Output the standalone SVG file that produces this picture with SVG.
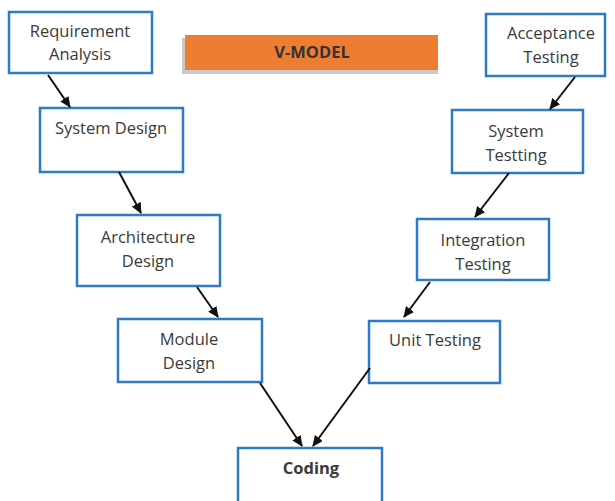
<svg xmlns="http://www.w3.org/2000/svg" width="615" height="501" viewBox="0 0 615 501">
<defs>
<marker id="ah" markerWidth="11" markerHeight="10" refX="10" refY="5" orient="auto" markerUnits="userSpaceOnUse">
<path d="M0,0 L11,5 L0,10 Z" fill="#111"/>
</marker>
<style>
.box{fill:#fff;stroke:#2e7bc4;stroke-width:2.5}
.t{font-family:"Open Sans","Liberation Sans",sans-serif;font-size:16.5px;fill:#3a3a3a;text-anchor:middle}
.b{font-weight:bold}
.c{stroke:#111;stroke-width:2;fill:none;marker-end:url(#ah)}
</style>
</defs>
<rect width="615" height="501" fill="#fff"/>
<g id="title">
<rect x="182" y="38" width="256" height="36" fill="#c9c9c9"/>
<rect x="185" y="35" width="253" height="35" fill="#ed7d31"/>
<text class="t b" x="312" y="58" style="fill:#333">V-MODEL</text>
</g>
<g id="req"><rect class="box" x="9" y="12" width="143" height="61"/><text class="t" x="80" y="37">Requirement</text><text class="t" x="80" y="60">Analysis</text></g>
<g id="sysdes"><rect class="box" x="40" y="108" width="143" height="64"/><text class="t" x="111" y="134">System Design</text></g>
<g id="arch"><rect class="box" x="77" y="215" width="143" height="71"/><text class="t" x="148" y="243">Architecture</text><text class="t" x="148" y="267">Design</text></g>
<g id="module"><rect class="box" x="118" y="319" width="144" height="63"/><text class="t" x="189" y="345">Module</text><text class="t" x="189" y="369">Design</text></g>
<g id="coding"><rect class="box" x="238" y="448" width="144" height="60"/><text class="t b" x="311" y="474">Coding</text></g>
<g id="unit"><rect class="box" x="369" y="321" width="131" height="62"/><text class="t" x="435" y="346">Unit Testing</text></g>
<g id="integ"><rect class="box" x="417" y="219" width="132" height="61"/><text class="t" x="483" y="246">Integration</text><text class="t" x="483" y="270">Testing</text></g>
<g id="systest"><rect class="box" x="452" y="110" width="131" height="63"/><text class="t" x="516" y="137">System</text><text class="t" x="516" y="161">Testting</text></g>
<g id="accept"><rect class="box" x="486" y="14" width="119" height="62"/><text class="t" x="551" y="39">Acceptance</text><text class="t" x="551" y="63">Testing</text></g>
<g id="connectors">
<line class="c" x1="48" y1="75" x2="70" y2="107"/>
<line class="c" x1="119" y1="172" x2="141" y2="213"/>
<line class="c" x1="197" y1="287" x2="218" y2="317"/>
<line class="c" x1="260" y1="383" x2="302" y2="446"/>
<line class="c" x1="370" y1="368" x2="313" y2="446"/>
<line class="c" x1="430" y1="282" x2="404" y2="317"/>
<line class="c" x1="509" y1="173" x2="475" y2="217"/>
<line class="c" x1="575" y1="77" x2="550" y2="109"/>
</g>
</svg>
